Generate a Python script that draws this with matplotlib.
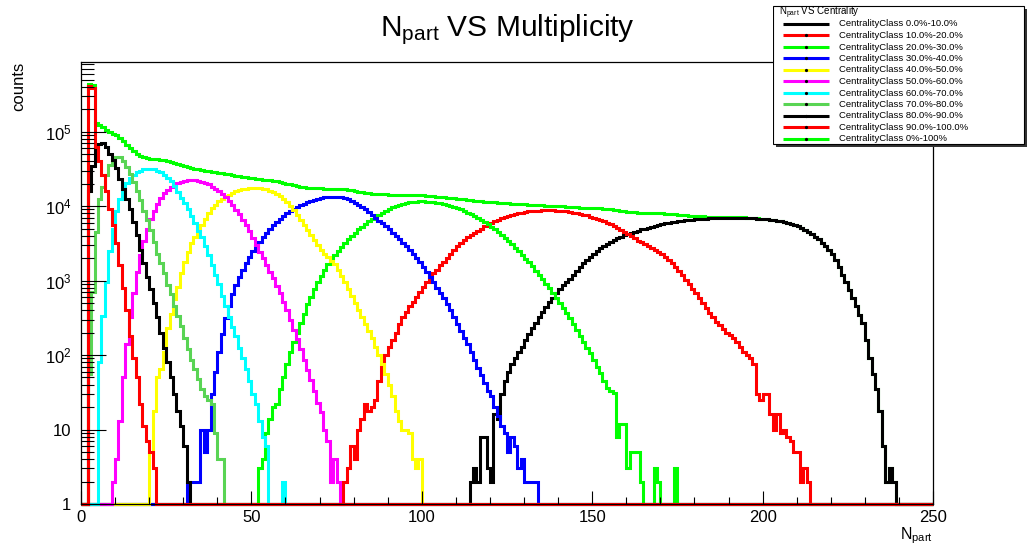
import numpy as np
import matplotlib.pyplot as plt
from matplotlib.patches import Rectangle
from matplotlib.ticker import MultipleLocator, LogLocator, NullFormatter

plt.rcParams['font.family'] = ['Liberation Sans', 'DejaVu Sans']
plt.rcParams['mathtext.fontset'] = 'custom'
plt.rcParams['mathtext.rm'] = 'Liberation Sans'
plt.rcParams['mathtext.it'] = 'Liberation Sans:italic'

W, H = 1030, 546
n_bins = 250
edges = np.arange(n_bins + 1)

# counts per Npart bin (width 1), each class listed from its first filled bin
c00_start = 114
c00 = [2, 3, 2, 8, 8, 3, 2, 16, 14, 30, 45, 60, 75, 90,
       110, 130, 160, 190, 230, 270, 320, 380, 440, 510, 590, 680, 770, 860, 960, 1060,
       1200, 1350, 1500, 1700, 1900, 2100, 2300, 2500, 2700, 2900, 3100, 3300, 3500, 3700, 3900, 4100,
       4250, 4400, 4550, 4700, 4850, 5000, 5150, 5300, 5450, 5600,
       5800, 5900, 6000, 6100, 6200, 6300, 6400, 6500, 6550, 6600, 6650, 6700, 6750, 6800, 6850, 6900,
       6900, 6950, 6950, 7000, 7000, 7000, 7000,
       6950, 6950, 6900, 6900, 6850, 6800, 6750, 6700, 6650, 6550, 6450, 6350, 6250, 6100, 5950, 5750,
       5550, 5350, 5050, 4800, 4550,
       4250, 3900, 3600, 3200, 2900, 2600, 2300, 1900, 1500, 1200, 950, 750, 580, 450, 350, 270, 160,
       90, 55, 35, 18, 6, 2, 3, 2]

c10_start = 77
c10 = [2, 3, 6, 4, 10, 14, 22, 18, 20, 25,
       45, 70, 100, 130, 160, 200, 260, 320, 380, 450, 520, 600, 700, 820, 950,
       1100, 1250, 1400, 1600, 1800, 2000, 2250, 2600, 2900, 3200, 3500, 3800, 4100, 4400, 4700, 5000,
       5400, 5700, 6000, 6300, 6600, 6900, 7200, 7400, 7600, 7800, 8000, 8200, 8400,
       8500, 8600, 8700, 8700, 8800, 8800, 8800, 8800, 8700, 8700, 8600, 8500, 8400,
       8200, 8000, 7900, 7700, 7500, 7200, 7000, 6800, 6600, 6300, 6000, 5700, 5400, 5100, 4800, 4500, 4200,
       3950, 3700, 3450, 3250, 3050, 2900, 2750, 2550, 2400, 2250, 2100, 1900, 1700, 1500, 1330, 1170, 1020,
       890, 780, 680, 580, 500, 430, 370, 320, 280, 250, 225, 200, 185, 170, 150, 130, 110, 100, 90, 75,
       30, 25, 30, 30, 16, 10, 16, 9, 10, 8, 7, 5, 5, 2, 3, 2]

c20_start = 52
c20 = [3, 4, 9, 14, 20, 22, 35, 50, 75,
       110, 150, 200, 270, 360, 480, 600, 760, 950, 1150, 1400, 1650, 1900, 2200, 2500, 2850, 3200, 3600, 4000,
       4400, 4900, 5300, 5800, 6300, 6800, 7300, 7700, 8200, 8700, 9200, 9600, 10000, 10400, 10700, 11000,
       11200, 11400, 11500, 11600, 11600,
       11500, 11400, 11300, 11100, 10900, 10700, 10400, 10100, 9800, 9400, 9100, 8700, 8200, 7800, 7400,
       7000, 6500, 6100, 5700, 5250,
       4850, 4450, 4100, 3700, 3400, 3050, 2750, 2500, 2200, 1970, 1750, 1550, 1360, 1200, 1040, 910,
       790, 680, 585, 500,
       430, 365, 310, 260, 220, 180, 150, 125, 105, 86, 70, 58, 45, 36, 33, 31,
       8, 12, 12, 3, 5, 5, 5, 2, 1, 0, 0, 3, 2, 0, 0, 0, 0, 3]

c30_start = 31
c30 = [2, 2, 2, 2, 10, 5, 10, 30, 60, 110, 190, 310, 450, 650,
       870, 1100, 1400, 1700, 2100, 2500, 2900, 3300, 3800, 4300, 4900, 5500, 6100, 6700, 7300, 8000,
       8600, 9200, 9800, 10300, 10800, 11300, 11800, 12200, 12600, 12900, 13100, 13300, 13400, 13400,
       13300, 13100, 12800, 12300, 11700, 11000,
       10300, 9600, 9000, 8400, 7700, 7000, 6400, 5900, 5400, 4900, 4400, 4000, 3600, 3200, 2900, 2550,
       2250, 2000, 1750, 1500,
       1300, 1100, 950, 800, 680, 580, 480, 400, 320, 260, 210, 170, 140, 110, 85, 68, 54, 42, 33, 28,
       20, 15, 11, 9, 5, 8, 6, 3, 4, 2, 2, 2, 2]

c40_start = 20
c40 = [5, 18, 50, 65, 110, 230, 360, 570, 830, 1250, 1800, 2400, 3200, 3900, 4800,
       5600, 6700, 8000, 9300, 10500, 11600, 12600, 13500, 14300, 15000, 15700, 16300, 16800, 17200,
       17500, 17600, 17600,
       17400, 17100, 16700, 16100, 15400, 14600, 13600, 12500, 11300, 10000, 8800, 7600, 6500, 5600,
       4800, 4100, 3500, 3000, 2600,
       2300, 2050, 1850, 1650, 1400, 1150, 950, 780, 630, 500, 400, 320, 260, 210, 170, 130, 100, 75,
       55, 40, 28, 18, 13, 10, 10, 9, 4, 3, 4]

c50_start = 9
c50 = [2, 4, 13, 50, 140, 320, 680, 1300, 2200, 3400, 4900, 6700, 8700, 10800, 12800, 14800, 16500,
       18000, 19300, 20300, 21100, 21700, 22100, 22300, 22300, 22000,
       21200, 20400, 19500, 18200, 17000, 15800, 14500, 13200, 11700, 10200, 8900, 7800, 6600, 5600,
       4600, 3700, 3000, 2450, 2000, 1600, 1300, 1070, 850, 680, 520, 400,
       300, 220, 165, 120, 87, 63, 46, 33, 23, 17, 10, 7, 2, 4, 2]

c60_start = 5
c60 = [80, 330, 950, 2500, 5000, 8500, 12500, 16500, 20500, 24000, 26500, 28500, 30000, 31000,
       31500, 31500, 31000, 30000, 28500, 26500,
       24000, 21500, 18500, 15500, 13000, 11000, 9000, 7300, 5900, 4700, 3800, 2900, 2200, 1600, 1200,
       890, 630, 450, 320, 240,
       180, 125, 90, 65, 45, 30, 22, 13, 8, 6, 0, 0, 0, 0, 2]

c70_start = 2
c70 = [55, 700, 4500, 12500, 18000, 26000, 36000, 43000, 46000, 45000, 40000, 33000, 27000, 21000,
       16000, 12000, 8700, 6500, 4800, 3300,
       2300, 1700, 1250, 870, 650, 450, 330, 245, 170, 120, 87, 65, 48, 35, 28, 25, 22, 9, 4, 4]

c80_start = 2
c80 = [16000, 35000, 62000, 69000, 70000, 62000, 50000, 41000, 32000, 23000, 17000, 12500, 9100,
       6200, 4100, 2600, 1700, 1100, 760, 500, 320, 200, 126, 80, 50, 30, 18, 11, 6, 2]

c90_start = 2
c90 = [410000, 390000, 62000, 40000, 26000, 16000, 9000, 5600, 3200, 1600, 800, 400, 180, 90, 50,
       22, 11, 7, 5, 3]

all_start = 2
all_counts = [430000, 428000, 132000, 122000, 114000, 105000, 97500, 94000, 89000, 82000, 74000,
              66500, 60500,
              54500, 50000, 47000, 45000, 44000, 43500, 43000, 42500, 42000, 41000, 40000, 39000,
              37800, 36500, 35300, 34300, 33400, 32600, 31900, 31300, 30600,
              30000, 29500, 29000, 28600, 28200, 27800, 27300, 26700, 26100, 25600, 25200, 24800,
              24400, 24000, 23600, 23300, 23000, 22700, 22400, 22100, 21800, 21400, 21000, 20500, 20000,
              19500, 19000, 18600, 18200, 17900, 17700, 17500, 17400, 17300, 17250, 17200, 17200,
              17200, 17200, 17150, 17050, 16900, 16650, 16350, 15950, 15650, 15350, 15100, 14900, 14700,
              14550, 14450, 14400, 14350, 14300, 14250, 14230, 14220, 14200, 14180, 14150, 14100,
              14050, 14000, 13900, 13750, 13600, 13480, 13350, 13220, 13080, 12920, 12780, 12680, 12570,
              12480, 12350, 12150, 12000, 11880, 11760, 11600, 11520, 11420, 11300, 11190, 11090,
              11030, 10950, 10870, 10750, 10660, 10610, 10540, 10520, 10450, 10380, 10330, 10240, 10210,
              10150, 10100, 10060, 9980, 9950, 9890, 9830, 9770, 9670, 9590, 9570, 9540, 9510, 9420,
              9380, 9360, 9340, 9240, 9140, 9030, 8930, 8800, 8700, 8600, 8450,
              8350, 8250, 8160, 8100, 8060, 8050, 8040, 8000, 7990, 7980, 7950, 7880, 7800, 7710,
              7630, 7570, 7520, 7440, 7380, 7330, 7280, 7250, 7230, 7220, 7210,
              7200, 7200, 7190, 7190, 7180, 7170, 7150, 7090, 7060, 7000, 6990, 6920, 6830, 6780,
              6730, 6680, 6570, 6460, 6370, 6260, 6110, 5960, 5760, 5560, 5360,
              5050, 4800, 4550, 4250, 3900, 3600, 3200, 2900, 2600, 2300, 1900, 1500, 1200, 950,
              750, 580, 450, 350, 270, 160, 90, 55, 35, 18, 6, 2, 3, 2]

class_labels = ['CentralityClass 0.0%-10.0%', 'CentralityClass 10.0%-20.0%',
                'CentralityClass 20.0%-30.0%', 'CentralityClass 30.0%-40.0%',
                'CentralityClass 40.0%-50.0%', 'CentralityClass 50.0%-60.0%',
                'CentralityClass 60.0%-70.0%', 'CentralityClass 70.0%-80.0%',
                'CentralityClass 80.0%-90.0%', 'CentralityClass 90.0%-100.0%']
all_label = 'CentralityClass 0%-100%'
class_colors = ['#000000', '#ff0000', '#00ff00', '#0000ff', '#ffff00',
                '#ff00ff', '#00ffff', '#59d454', '#000000', '#ff0000']
all_color = '#00ff00'

x_ticks = [0, 50, 100, 150, 200, 250]
y_ticks = [1, 10, 100, 1e3, 1e4, 1e5]
y_tick_labels = ['1', '10', r'$10^{2}$', r'$10^{3}$', r'$10^{4}$', r'$10^{5}$']

classes = [(c00_start, c00), (c10_start, c10), (c20_start, c20), (c30_start, c30),
           (c40_start, c40), (c50_start, c50), (c60_start, c60), (c70_start, c70),
           (c80_start, c80), (c90_start, c90)]


def fill(start, counts):
    h = np.zeros(n_bins)
    h[start:start + len(counts)] = counts
    return h


fig = plt.figure(figsize=(W / 100, H / 100), dpi=100)
ax = fig.add_axes([81 / W, 1 - 504 / H, 852 / W, 442 / H])
ax.set_yscale('log')
ax.set_xlim(0, 250)
ax.set_ylim(1, 8.6e5)


def draw(h, color):
    # empty bins sit on the bottom of the frame, like ROOT does on a log axis
    p = ax.stairs(np.maximum(h, 1), edges, baseline=None, color=color,
                  linewidth=2.2, clip_on=False)
    p.set_joinstyle('miter')


draw(fill(all_start, all_counts), all_color)
for (start, counts), color in zip(classes, class_colors):
    draw(fill(start, counts), color)

for s in ax.spines.values():
    s.set_linewidth(0.9)

ax.set_xticks(x_ticks)
ax.set_xticklabels([str(v) for v in x_ticks])
ax.xaxis.set_minor_locator(MultipleLocator(10))
ax.set_yticks(y_ticks)
ax.set_yticklabels(y_tick_labels)
ax.yaxis.set_minor_locator(LogLocator(base=10, subs=np.arange(2, 10), numticks=20))
ax.yaxis.set_minor_formatter(NullFormatter())
ax.tick_params(which='both', direction='in', top=False, right=False, width=0.8, color='black')
ax.tick_params(axis='x', which='major', length=9.4, pad=4, labelsize=12)
ax.tick_params(axis='x', which='minor', length=4.7)
ax.tick_params(axis='y', which='major', length=18, pad=7, labelsize=12)
ax.tick_params(axis='y', which='minor', length=9)

fig.text(507 / W, 1 - 36 / H, r'N$_{\mathrm{part}}$ VS Multiplicity', fontsize=21.5,
         ha='center', va='baseline')
fig.text(19 / W, 1 - 62 / H, 'counts', rotation=90, fontsize=12, ha='center', va='top')
fig.text(933 / W, 1 - 539.5 / H, r'N$_{\mathrm{part}}$', fontsize=11.5, ha='right', va='baseline')

# legend box drawn in its own pixel-unit axes
lax = fig.add_axes([773 / W, 1 - 147 / H, 257 / W, 142 / H])
lax.set_xlim(0, 257)
lax.set_ylim(142, 0)
lax.axis('off')
lax.add_patch(Rectangle((3, 4), 251, 138, facecolor='#333333', edgecolor='none'))
lax.add_patch(Rectangle((0, 1), 251, 138, facecolor='white', edgecolor='black', linewidth=0.8))
lax.text(6, 8, r'N$_{\mathrm{part}}$ VS Centrality', fontsize=7, va='center', ha='left')

legend_labels = class_labels + [all_label]
legend_colors = class_colors + [all_color]
for i, (lab, col) in enumerate(zip(legend_labels, legend_colors)):
    y = 19 + i * 11.5
    lax.plot([10, 56], [y, y], color=col, linewidth=2.2, solid_capstyle='butt')
    if i > 0:
        lax.plot([33], [y], marker='o', markersize=1.3, color='black')
    lax.text(66, y, lab, fontsize=6.8, va='center', ha='left')

fig.savefig('out.png', dpi=100, facecolor='white')
